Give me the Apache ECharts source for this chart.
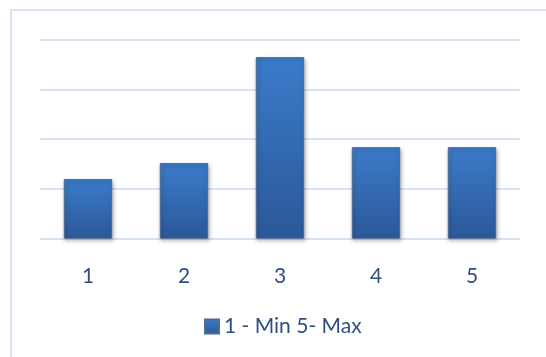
<!DOCTYPE html>
<html>
<head>
<meta charset="utf-8">
<script src="https://cdn.jsdelivr.net/npm/echarts@6/dist/echarts.min.js"></script>
<style>
html,body{margin:0;padding:0;background:#fff;}
#chart{width:546px;height:357px;}
</style>
</head>
<body>
<div id="chart"></div>
<script>
var categories = ['1', '2', '3', '4', '5'];
var seriesName = '1 - Min 5- Max';
var values = [1.2, 1.52, 3.65, 1.84, 1.84];
var yTicks = [0, 1, 2, 3, 4];

var chart = echarts.init(document.getElementById('chart'), null, {renderer: 'canvas'});
var textColor = '#2f4f82';
var fontFam = 'Lato, "Open Sans", sans-serif';
chart.setOption({
  animation: false,
  backgroundColor: '#ffffff',
  graphic: [{
    type: 'rect',
    shape: {x: 11, y: 10, width: 600, height: 400},
    style: {fill: 'none', stroke: '#dae5f3', lineWidth: 2},
    silent: true
  }],
  grid: {left: 40, right: 26, top: 39.7, bottom: 118.3, containLabel: false},
  xAxis: {
    type: 'category',
    data: categories,
    axisLine: {show: false},
    axisTick: {show: false},
    axisLabel: {color: textColor, fontSize: 21, fontFamily: fontFam, margin: 27}
  },
  yAxis: {
    type: 'value',
    min: yTicks[0],
    max: yTicks[yTicks.length - 1],
    interval: 1,
    axisLabel: {show: false},
    axisLine: {show: false},
    axisTick: {show: false},
    splitLine: {lineStyle: {color: '#d7e2f1', width: 2}}
  },
  legend: {
    left: 204,
    top: 316,
    padding: 0,
    icon: 'rect',
    itemWidth: 14,
    itemHeight: 14,
    itemGap: 5,
    textStyle: {color: textColor, fontSize: 21, fontFamily: fontFam},
    data: [seriesName]
  },
  series: [{
    name: seriesName,
    type: 'bar',
    data: values,
    barWidth: '50.4%',
    itemStyle: {
      color: new echarts.graphic.LinearGradient(0, 0, 0, 1, [
        {offset: 0, color: '#3a7bca'},
        {offset: 1, color: '#2c5898'}
      ]),
      borderColor: '#4d6a90',
      borderWidth: 1,
      shadowColor: 'rgba(0,0,0,0.3)',
      shadowBlur: 4,
      shadowOffsetX: 1,
      shadowOffsetY: 2
    }
  }]
});
</script>
</body>
</html>
